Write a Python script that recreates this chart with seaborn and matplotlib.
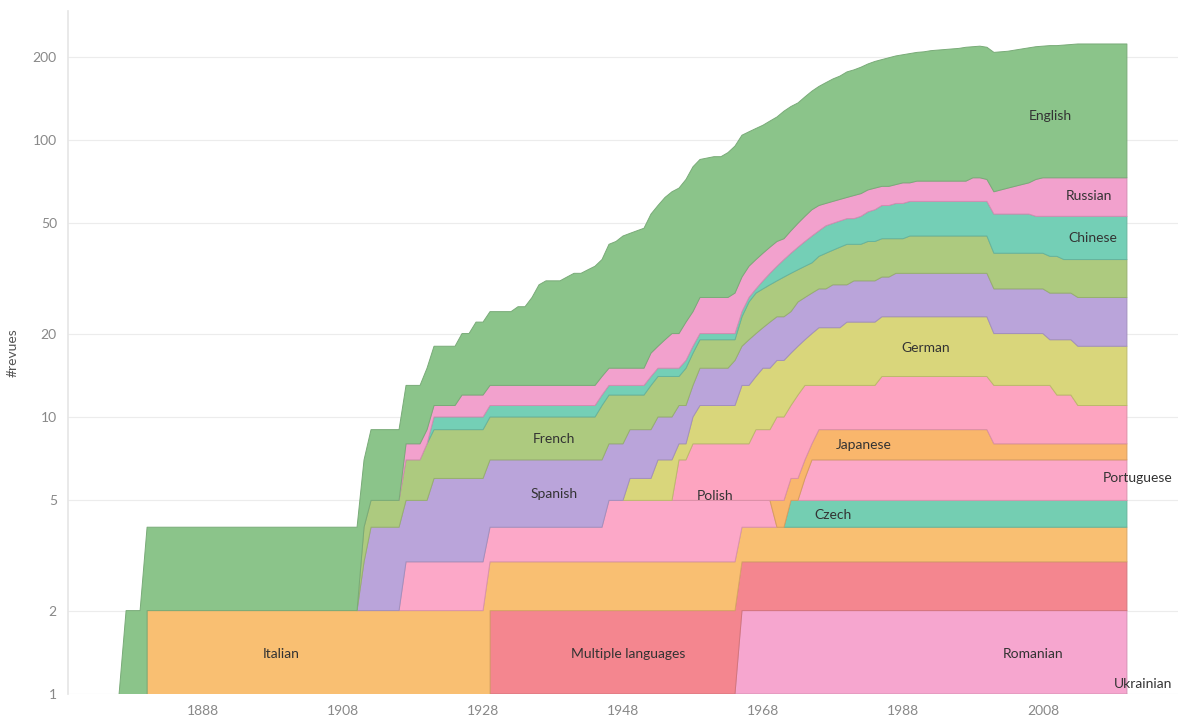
import numpy as np
import matplotlib.pyplot as plt
import matplotlib.colors as mcolors
import seaborn as sns

# ── Data: number of revues per language (value holds from that year on) ──
YEARS = np.arange(1876, 2021)

LANGUAGES = ["Ukrainian", "Romanian", "Multiple languages", "Italian", "Czech",
             "Portuguese", "Japanese", "Polish", "German", "Spanish", "French",
             "Chinese", "Russian", "English"]

ukrainian  = {1929: 1}
romanian   = {1965: 1}
multiple   = {1929: 1}
italian    = {1880: 2, 1929: 1}
czech      = {1972: 1}
portuguese = {1917: 1, 1946: 2, 1965: 1, 1970: 0, 1974: 1, 1975: 2}
japanese   = {1970: 1, 1976: 2, 2001: 1}
polish     = {1956: 2, 1958: 3, 1967: 4, 1970: 5, 1973: 6, 1975: 5, 1976: 4,
              1985: 5, 2010: 4, 2013: 3}
german     = {1949: 1, 1953: 2, 1956: 1, 1958: 2, 1959: 3, 1965: 5, 1968: 6,
              1975: 7, 1976: 8, 1980: 9, 2001: 7, 2009: 6, 2010: 7}
spanish    = {1911: 1, 1912: 2, 1921: 3, 1959: 4, 1964: 5, 1966: 6, 1969: 7,
              1973: 8, 1978: 9, 1980: 8, 1981: 9, 1987: 10, 2001: 9}
french     = {1911: 1, 1917: 2, 1920: 3, 1945: 4, 1949: 3, 1952: 4, 1956: 3,
              1957: 4, 1964: 3, 1965: 5, 1966: 7, 1967: 8, 1971: 9, 1973: 8,
              1976: 9, 1977: 10, 1979: 11, 1980: 12, 1981: 11, 1983: 12,
              1987: 11, 1989: 12, 2001: 10, 2011: 9, 2013: 10}
chinese    = {1921: 1, 1968: 2, 1969: 3, 1970: 4, 1971: 5, 1972: 6, 1973: 7,
              1974: 8, 1975: 9, 1977: 10, 1982: 11, 1983: 12, 1984: 13,
              1985: 14, 1987: 15, 2007: 14, 2009: 15, 2011: 16}
russian    = {1917: 1, 1925: 2, 1952: 3, 1954: 4, 1955: 5, 1957: 6, 1959: 7,
              1964: 8, 1971: 7, 1972: 8, 1973: 9, 1974: 10, 1975: 11, 1977: 10,
              1981: 11, 1985: 10, 1988: 11, 1989: 10, 1990: 11, 1998: 13,
              2000: 12, 2001: 11, 2002: 12, 2003: 13, 2004: 14, 2005: 15,
              2006: 16, 2007: 19, 2008: 20}
english    = {1876: 1, 1877: 2, 1911: 3, 1912: 4, 1917: 5, 1920: 6, 1921: 7,
              1925: 8, 1927: 10, 1929: 11, 1933: 12, 1935: 14, 1936: 17,
              1937: 18, 1940: 19, 1941: 20, 1943: 21, 1944: 22, 1945: 23,
              1946: 27, 1947: 28, 1948: 30, 1949: 31, 1950: 32, 1951: 33,
              1952: 37, 1953: 40, 1954: 43, 1955: 45, 1956: 47, 1957: 50,
              1958: 56, 1959: 58, 1960: 59, 1961: 60, 1963: 63, 1964: 67,
              1965: 72, 1967: 73, 1968: 74, 1969: 76, 1970: 78, 1971: 83,
              1972: 85, 1973: 86, 1974: 90, 1975: 94, 1976: 98, 1977: 102,
              1978: 106, 1979: 109, 1980: 114, 1981: 116, 1982: 119,
              1983: 122, 1984: 125, 1985: 127, 1986: 130, 1987: 132,
              1988: 133, 1989: 135, 1990: 136, 1991: 137, 1992: 139,
              1993: 140, 1994: 141, 1995: 142, 1996: 143, 1997: 145,
              1998: 144, 1999: 145, 2000: 144, 2001: 142, 2004: 143,
              2005: 144, 2006: 145, 2009: 146, 2011: 147, 2012: 148, 2013: 149}

SERIES = [ukrainian, romanian, multiple, italian, czech, portuguese, japanese,
          polish, german, spanish, french, chinese, russian, english]

COLORS = ["#f6a6cf", "#f6a6cf", "#f4868f", "#f9bf72", "#74ceb2", "#fca8c8",
          "#f9b66c", "#fda4c0", "#d9d67b", "#baa4da", "#adca7f", "#74cfb6",
          "#f2a1cd", "#8bc48a"]

Y_TICKS = [1, 2, 5, 10, 20, 50, 100, 200]
X_TICKS = [1888, 1908, 1928, 1948, 1968, 1988, 2008]

# label anchor (year, #revues) for each area label
LABEL_POS = {
    "English": (2009, 122), "Russian": (2014.6, 63), "Chinese": (2015.1, 44.3),
    "French": (1938.1, 8.33), "Spanish": (1938.1, 5.27), "German": (1991.3, 17.7),
    "Japanese": (1982.4, 7.93), "Polish": (1961.1, 5.19),
    "Portuguese": (2021.6, 6.03), "Czech": (1978, 4.43), "Italian": (1899.1, 1.39),
    "Multiple languages": (1948.7, 1.39), "Romanian": (2006.6, 1.39),
    "Ukrainian": (2022.3, 1.087),
}


def expand(changes):
    counts = np.zeros(len(YEARS))
    for year, n in sorted(changes.items()):
        counts[YEARS >= year] = n
    return counts


def darker(color, f=0.87):
    r, g, b = mcolors.to_rgb(color)
    return (r * f, g * f, b * f)


stack   = np.vstack([expand(s) for s in SERIES])
tops    = np.cumsum(stack, axis=0)
bottoms = tops - stack

# ── Plot ─────────────────────────────────────────────────────
sns.set_theme(style="white")
plt.rcParams["font.family"] = ["Lato", "DejaVu Sans"]

fig = plt.figure(figsize=(11.81, 7.2), dpi=100)
ax = fig.add_axes([68 / 1181, 26 / 720, 1110 / 1181, 683 / 720])
ax.set_yscale("log")

for i, lang in enumerate(LANGUAGES):
    present = stack[i] > 0
    # keep neighbouring zero points so the transitions are drawn
    show = present | np.roll(present, 1) | np.roll(present, -1)
    ax.fill_between(YEARS, bottoms[i], tops[i], where=show,
                    facecolor=COLORS[i], edgecolor=darker(COLORS[i]),
                    linewidth=0.7, zorder=2 + i * 0.01)

for lang, (x, y) in LABEL_POS.items():
    ax.text(x, y, lang, ha="center", va="center", fontsize=10,
            color="#333333", zorder=10)

ax.set_xlim(1868.7, 2027.3)
ax.set_ylim(1, 292)
ax.set_yticks(Y_TICKS)
ax.set_yticklabels([str(t) for t in Y_TICKS])
ax.minorticks_off()
ax.set_xticks(X_TICKS)
ax.set_xticklabels([str(t) for t in X_TICKS])
ax.tick_params(axis="both", length=0, labelsize=10, colors="#888888", pad=8)
ax.set_ylabel("#revues", fontsize=10, color="#555555", labelpad=10)

ax.grid(True, axis="y", color="#ececec", linewidth=0.8)
ax.set_axisbelow(True)
sns.despine(ax=ax, top=True, right=True, bottom=True)
ax.spines["left"].set_color("#e6e6e6")

fig.savefig("out.png", dpi=100)
